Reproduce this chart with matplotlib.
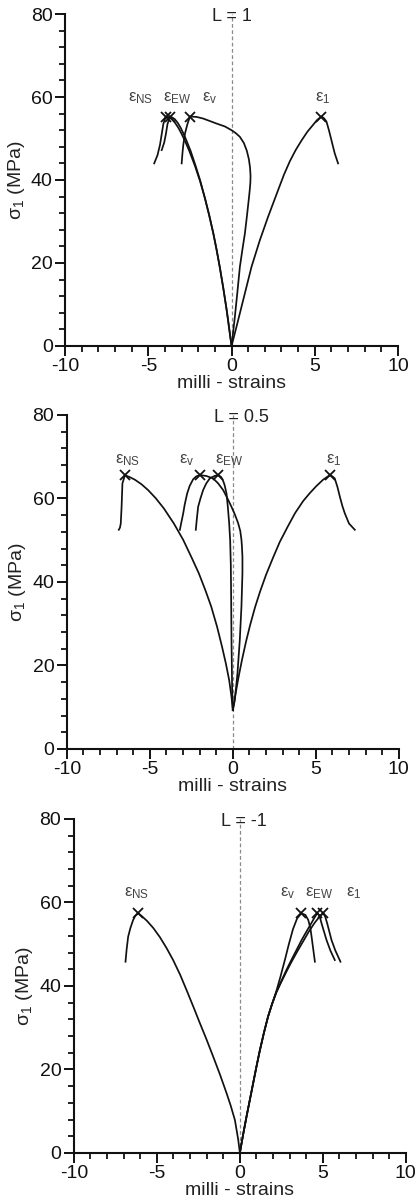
import matplotlib
matplotlib.use("Agg")
import matplotlib.pyplot as plt
from matplotlib.ticker import MultipleLocator
import numpy as np

plt.rcParams['font.family'] = ['Liberation Sans', 'DejaVu Sans']
plt.rcParams['mathtext.fontset'] = 'custom'
plt.rcParams['mathtext.rm'] = 'Liberation Sans'
plt.rcParams['mathtext.it'] = 'Liberation Sans'
plt.rcParams['mathtext.bf'] = 'Liberation Sans:bold'
plt.rcParams['axes.unicode_minus'] = False

# ---- L = 1 -------------------------------------------------------------
top_e1_x = [0, 0.3, 0.7, 1.2, 1.7, 2.2, 2.8, 3.15, 3.5, 3.85, 4.2, 4.55, 4.9,
            5.15, 5.4,
            5.55, 5.7, 5.85, 6.0, 6.2, 6.4]
top_e1_y = [0, 4.7, 11.1, 19.1, 25.5, 31.2, 37.6, 41.3, 44.5, 47.2, 49.5, 51.6, 53.3,
            54.5, 55.3,
            54.9, 54.1, 52, 49.6, 46.4, 44]
top_ev_x = [0, 0.1, 0.2, 0.35, 0.5, 0.65, 0.8, 0.92, 1.03, 1.09, 1.13, 1.14,
            1.11, 1.04, 0.92, 0.74, 0.5, 0.25, 0.0, -0.4, -0.9, -1.3, -1.7, -2.1, -2.5,
            -2.65, -2.8, -2.9, -2.95, -3.0]
top_ev_y = [0, 3.5, 7.1, 13, 19.1, 23.2, 27.1, 31.2, 35.2, 37.5, 39.4, 41.0,
            43.0, 45.0, 47.0, 48.9, 50.4, 51.3, 52.0, 52.9, 53.6, 54.2, 54.8, 55.2, 55.3,
            53.5, 51.2, 48.5, 46.5, 44]
top_ens_x = [0, -0.1, -0.2, -0.3, -0.5, -0.7, -0.9, -1.1, -1.35, -1.6, -1.9,
             -2.2, -2.54, -2.8, -3.0, -3.2, -3.4, -3.6, -3.8, -3.95,
             -4.1, -4.2, -4.3, -4.45, -4.65]
top_ens_y = [0, 2.9, 5.9, 8.8, 14.0, 18.8, 23.2, 27.2, 31.6, 35.6, 39.8,
             43.4, 47.0, 49.4, 51.1, 52.6, 53.8, 54.7, 55.1, 55.3,
             53.5, 51, 48.5, 46, 44]
top_eew_x = [0, -0.1, -0.2, -0.3, -0.5, -0.7, -0.9, -1.1, -1.35, -1.6, -1.88,
             -2.16, -2.46, -2.7, -2.88, -3.06, -3.24, -3.42, -3.58, -3.7,
             -3.85, -3.95, -4.05, -4.2]
top_eew_y = [0, 2.9, 5.9, 8.8, 14.0, 18.8, 23.2, 27.2, 31.6, 35.6, 39.8,
             43.4, 47.0, 49.4, 51.1, 52.6, 53.8, 54.7, 55.1, 55.3,
             53.5, 51, 49, 47.2]

# ---- L = 0.5 -----------------------------------------------------------
mid_e1_x = [0, 0.15, 0.35, 0.55, 0.8, 1.05, 1.35, 1.65, 2.0, 2.4, 2.83, 3.3,
            3.75, 4.24, 4.64, 5.04, 5.44, 5.84,
            6.0, 6.14, 6.3, 6.45, 6.6, 6.75, 7.0, 7.35]
mid_e1_y = [9.3, 12.9, 17.3, 21.3, 25.8, 29.8, 34.1, 37.8, 41.7, 45.6, 49.6, 53.2,
            56.5, 59.4, 61.3, 63.0, 64.5, 65.6,
            65.3, 64.8, 62.8, 60.4, 58.2, 56.4, 54, 52.5]
mid_ev_x = [0, 0.12, 0.28, 0.42, 0.52, 0.58, 0.58, 0.55, 0.52, 0.45, 0.32, 0.12,
            -0.08, -0.32, -0.58, -0.88, -1.18, -1.6, -1.99,
            -2.2, -2.39, -2.6, -2.75, -2.9, -2.99, -3.1, -3.19]
mid_ev_y = [9.3, 11.7, 18.1, 26.1, 34.1, 42.1, 46, 48.5, 50.1, 52.2, 54.1, 56.2,
            58.0, 60.0, 62.0, 63.6, 64.8, 65.4, 65.6,
            65.3, 64.6, 63, 61.2, 58.5, 56.4, 54.3, 52.5]
mid_ens_x = [0, -0.08, -0.22, -0.42, -0.65, -0.95, -1.3, -1.65, -2.05, -2.5,
             -2.99, -3.55, -4.15, -4.65, -5.1, -5.5, -5.9, -6.2, -6.5,
             -6.65, -6.7, -6.75, -6.8, -6.87]
mid_ens_y = [9.3, 12.5, 16.5, 20.5, 24.5, 29.3, 34.1, 38, 42.1, 46,
             50.1, 54, 57.6, 60.1, 62.0, 63.4, 64.5, 65.1, 65.6,
             63.6, 58, 54, 53, 52.5]
mid_eew_x = [0, -0.04, -0.08, -0.1, -0.12, -0.16, -0.22, -0.3, -0.38, -0.5,
             -0.6, -0.72, -0.88,
             -1.1, -1.39, -1.6, -1.79, -1.95, -2.09, -2.17, -2.23]
mid_eew_y = [9.3, 14.1, 26.1, 36, 44, 50, 54.1, 58, 61.2, 63.3,
             64.4, 65.2, 65.6,
             65.4, 64.8, 63.6, 62.0, 60, 58.0, 55, 52.5]

# ---- L = -1 ------------------------------------------------------------
bot_e1_x = [0, 0.2, 0.4, 0.6, 0.8, 1.0, 1.2, 1.45, 1.7, 1.95, 2.2,
            2.5, 2.8, 3.1, 3.45, 3.8, 4.15, 4.5, 4.8, 5.02,
            5.14, 5.26, 5.39, 5.52, 5.75, 6.06]
bot_e1_y = [0, 4.5, 8.7, 12.7, 16.7, 20.7, 24.5, 28.8, 32.7, 35.8, 38.5,
            41.0, 43.4, 45.7, 48.2, 50.6, 53, 55.1, 56.6, 57.4,
            56.6, 55.0, 53, 51.0, 48.5, 45.8]
bot_ev_x = [0, 0.2, 0.4, 0.6, 0.8, 1.0, 1.2, 1.45, 1.7, 1.95,
            2.2, 2.45, 2.71, 2.95, 3.2, 3.45, 3.71,
            3.95, 4.12, 4.25, 4.32, 4.42, 4.52]
bot_ev_y = [0, 4.5, 8.7, 12.7, 16.7, 20.7, 24.5, 28.8, 32.7, 35.8,
            38.8, 42.3, 46.2, 50.0, 53.6, 56.2, 57.4,
            57, 55.8, 53.8, 51.8, 48.8, 45.8]
bot_ens_x = [0, -0.1, -0.3, -0.55, -0.8, -1.2, -1.61, -2.0, -2.41, -2.8, -3.21,
             -3.6, -4.02, -4.42, -4.82, -5.22, -5.6, -5.9, -6.12,
             -6.3, -6.43, -6.6, -6.73, -6.82, -6.89]
bot_ens_y = [0, 3.2, 7.9, 11.3, 14.3, 18.8, 23.1, 27.1, 31.1, 35, 39.0,
             42.7, 46.2, 49.1, 51.7, 53.9, 55.6, 56.7, 57.4,
             56.8, 55.8, 53.8, 51.8, 48.8, 45.8]
bot_eew_x = [0, 0.2, 0.4, 0.6, 0.8, 1.0, 1.2, 1.45, 1.7, 1.95, 2.2,
             2.5, 2.8, 3.1, 3.41, 3.72, 4.02, 4.3, 4.5, 4.66,
             4.8, 4.92, 5.07, 5.22, 5.45, 5.72]
bot_eew_y = [0, 4.5, 8.7, 12.7, 16.7, 20.7, 24.5, 28.8, 32.7, 35.8, 38.5,
             41.2, 43.8, 46.2, 48.6, 51.0, 53.1, 55.0, 56.4, 57.4,
             56.8, 55.0, 53, 51.0, 48.5, 46.2]

titles = ['L = 1', 'L = 0.5', 'L = -1']
curve_names = ['NS', 'EW', 'v', '1']
# label anchor (x, y) for each curve name, per panel
top_labels = [(-5.5, 59.7), (-3.3, 59.7), (-1.3, 59.7), (5.5, 59.7)]
mid_labels = [(-6.35, 69.2), (-0.2, 69.2), (-2.8, 69.2), (6.1, 69.2)]
bot_labels = [(-6.2, 62.2), (4.8, 62.2), (2.85, 62.2), (6.83, 62.2)]


def draw_panel(ax, curves, labels, title):
    ax.axvline(0, ymin=0, ymax=1, color='#8a8a8a', lw=0.9, ls=(0, (3, 2)), zorder=1)
    for (x, y) in curves:
        x = np.asarray(x)
        y = np.asarray(y)
        ax.plot(x, y, color='#111111', lw=1.25, zorder=3)
        k = int(np.argmax(y))
        ax.plot(x[k], y[k], marker='x', color='#111111', ms=6.5, mew=1.3,
                zorder=4)
    for name, (lx, ly) in zip(curve_names, labels):
        ax.text(lx, ly, r'$ε_{\rm %s}$' % name, ha='center', va='center',
                fontsize=12, color='#444444')
    ax.text(-1.15, 79.5, title, ha='left', va='center', fontsize=13,
            color='#222222', zorder=5)

    ax.set_xlim(-10, 10)
    ax.set_ylim(0, 80)
    for s in ['top', 'right']:
        ax.spines[s].set_visible(False)
    for s in ['left', 'bottom']:
        ax.spines[s].set_linewidth(1.5)
        ax.spines[s].set_color('#111111')
    ax.xaxis.set_major_locator(MultipleLocator(5))
    ax.xaxis.set_minor_locator(MultipleLocator(1))
    ax.yaxis.set_major_locator(MultipleLocator(20))
    ax.yaxis.set_minor_locator(MultipleLocator(4))
    ax.tick_params(which='major', length=7, width=1.4, labelsize=14,
                   colors='#111111', pad=2)
    ax.tick_params(which='minor', length=4.5, width=1.3, colors='#111111')
    ax.set_xlabel('milli - strains', fontsize=14, labelpad=0, color='#222222')
    ax.set_ylabel(r'$σ_1$ (MPa)', fontsize=14, labelpad=3, color='#222222')
    ax.patch.set_visible(False)


fig = plt.figure(figsize=(4.15, 11.98), dpi=100)
ax1 = fig.add_axes([0.157, 0.7112, 0.802, 0.2771])
ax2 = fig.add_axes([0.161, 0.3748, 0.800, 0.2788])
ax3 = fig.add_axes([0.178, 0.0376, 0.800, 0.2788])

draw_panel(ax1, [(top_ens_x, top_ens_y), (top_eew_x, top_eew_y),
                 (top_ev_x, top_ev_y), (top_e1_x, top_e1_y)],
           top_labels, titles[0])
draw_panel(ax2, [(mid_ens_x, mid_ens_y), (mid_eew_x, mid_eew_y),
                 (mid_ev_x, mid_ev_y), (mid_e1_x, mid_e1_y)],
           mid_labels, titles[1])
draw_panel(ax3, [(bot_ens_x, bot_ens_y), (bot_eew_x, bot_eew_y),
                 (bot_ev_x, bot_ev_y), (bot_e1_x, bot_e1_y)],
           bot_labels, titles[2])

fig.savefig('out.png', dpi=100)
